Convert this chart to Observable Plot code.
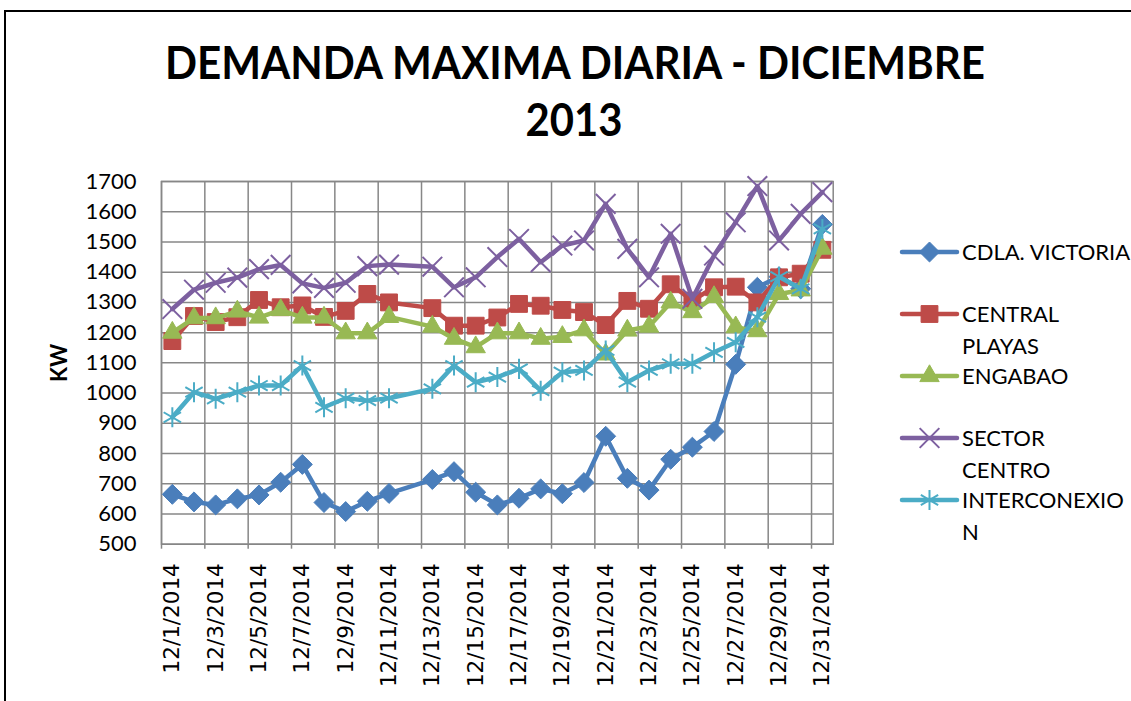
<!DOCTYPE html>
<html>
<head>
<meta charset="utf-8">
<script src="https://cdn.jsdelivr.net/npm/d3@7"></script>
<script src="https://cdn.jsdelivr.net/npm/@observablehq/plot@0.6"></script>
<style>
  html, body { margin: 0; padding: 0; background: #fff; }
  #wrap { position: relative; width: 1131px; height: 701px; overflow: hidden; background: #fff; }
  #border { position: absolute; left: 4px; top: 10px; width: 1200px; height: 800px; border: 2px solid #000; box-sizing: border-box; }
  #title { position: absolute; left: 0; top: 0; }
  #chart { position: absolute; left: 0; top: 160px; }
  #legend { position: absolute; left: 880px; top: 220px; }
  #ylab { position: absolute; left: 0; top: 0; }
</style>
</head>
<body>
<div id="wrap">
  <div id="border"></div>
  <svg id="title" width="1131" height="160"></svg>
  <svg id="ylab" width="120" height="701"></svg>
  <div id="chart"></div>
  <svg id="legend" width="251" height="340"></svg>
</div>
<script>
// ---- data ----
const titleLines = ["DEMANDA MAXIMA DIARIA - DICIEMBRE", "2013"];
const yLabel = "KW";
// day of December 2014 (12/12 has no reading)
const days = [1,2,3,4,5,6,7,8,9,10,11,13,14,15,16,17,18,19,20,21,22,23,24,25,26,27,28,29,30,31];
const tickDays = [1,3,5,7,9,11,13,15,17,19,21,23,25,27,29,31];
const tickLabels = ["12/1/2014","12/3/2014","12/5/2014","12/7/2014","12/9/2014","12/11/2014","12/13/2014","12/15/2014","12/17/2014","12/19/2014","12/21/2014","12/23/2014","12/25/2014","12/27/2014","12/29/2014","12/31/2014"];
const yTicks = [500,600,700,800,900,1000,1100,1200,1300,1400,1500,1600,1700];

const seriesNames = ["CDLA. VICTORIA", "CENTRAL PLAYAS", "ENGABAO", "SECTOR CENTRO", "INTERCONEXION"];
const legendLines = [["CDLA. VICTORIA"], ["CENTRAL", "PLAYAS"], ["ENGABAO"], ["SECTOR", "CENTRO"], ["INTERCONEXIO", "N"]];

const cdlaVictoria = [665,640,630,650,663,705,764,638,608,642,668,714,740,672,630,652,683,667,704,857,718,679,781,821,873,1095,1350,1385,1345,1558];
const centralPlayas = [1172,1255,1235,1251,1308,1284,1290,1252,1272,1328,1300,1281,1223,1223,1250,1295,1289,1275,1268,1225,1305,1279,1360,1306,1350,1352,1300,1383,1395,1474];
const engabao = [1200,1248,1248,1270,1250,1275,1250,1250,1198,1198,1252,1220,1180,1152,1198,1198,1180,1186,1208,1128,1207,1220,1300,1268,1318,1218,1205,1328,1340,1478];
const sectorCentro = [1278,1342,1365,1382,1410,1424,1363,1348,1365,1420,1425,1418,1350,1383,1450,1510,1433,1488,1505,1626,1477,1383,1527,1312,1455,1565,1685,1505,1593,1665];
const interconexion = [920,1003,981,1003,1025,1025,1091,953,983,975,983,1014,1091,1036,1053,1080,1008,1069,1075,1141,1036,1075,1097,1097,1135,1168,1251,1385,1345,1543];

const seriesValues = [cdlaVictoria, centralPlayas, engabao, sectorCentro, interconexion];
const colors = ["#4a7ebb", "#be4b48", "#98b954", "#7d60a0", "#4bacc6"];
const symbols = ["diamond2", "square", "triangle", "times", "asterisk"];
const symbolR = [9, 9.5, 7.2, 9, 9.5];
const filled = [true, true, true, false, false];

// ---- title ----
const tsvg = d3.select("#title");
tsvg.append("text").attr("x", 575).attr("y", 79).attr("text-anchor", "middle")
  .attr("font-family", "Lato").attr("font-weight", "bold").attr("font-size", 46)
  .attr("textLength", 820).attr("lengthAdjust", "spacingAndGlyphs").text(titleLines[0]);
tsvg.append("text").attr("x", 574).attr("y", 136).attr("text-anchor", "middle")
  .attr("font-family", "Lato").attr("font-weight", "bold").attr("font-size", 46)
  .attr("textLength", 97).attr("lengthAdjust", "spacingAndGlyphs").text(titleLines[1]);

// ---- y label ----
d3.select("#ylab").append("text").attr("transform", "translate(67,363) rotate(-90)")
  .attr("text-anchor", "middle").attr("font-family", "Lato").attr("font-weight", "bold")
  .attr("font-size", 22).text(yLabel);

// ---- chart ----
const gridColor = "#878787";
const gridDays = d3.range(0.5, 31, 2);
const marks = [
  Plot.gridY(yTicks, {stroke: gridColor, strokeOpacity: 1, strokeWidth: 1.5}),
  Plot.gridX(gridDays, {stroke: gridColor, strokeOpacity: 1, strokeWidth: 1.5}),
  Plot.frame({stroke: gridColor, strokeWidth: 1.5}),
  Plot.axisY(yTicks, {tickSize: 0, tickPadding: 25, tickFormat: d => String(d), fontSize: 22, fontFamily: "Lato", fill: "#000", label: null}),
  Plot.axisX(gridDays, {tickSize: 5, stroke: gridColor, strokeWidth: 1.5, tickFormat: () => "", label: null}),
  Plot.axisX(tickDays, {tickSize: 0, tickPadding: 19, tickRotate: -90, tickFormat: d => tickLabels[tickDays.indexOf(d)],
    fontSize: 21.5, fontFamily: "DejaVu Sans", fill: "#000", label: null})
];
seriesValues.forEach((vals, s) => {
  marks.push(Plot.line(days, {x: d => d, y: (d, i) => vals[i], stroke: colors[s], strokeWidth: 4.5,
    strokeLinejoin: "round", strokeLinecap: "round"}));
  marks.push(Plot.dot(days, {x: d => d, y: (d, i) => vals[i], symbol: symbols[s], r: symbolR[s],
    fill: filled[s] ? colors[s] : "none", stroke: colors[s], strokeWidth: filled[s] ? 1 : 2}));
});

const chart = Plot.plot({
  width: 850, height: 541,
  marginLeft: 161, marginRight: 17.3, marginTop: 21, marginBottom: 157.3,
  x: {type: "linear", domain: [0.5, 31.5]},
  y: {domain: [500, 1700]},
  style: {background: "transparent", overflow: "visible"},
  marks
});
document.getElementById("chart").appendChild(chart);

// ---- legend ----
const lg = d3.select("#legend");
const lx0 = 22, lx1 = 77, lmid = 49.5, ltext = 82;
const symMap = {diamond2: d3.symbolDiamond2, square: d3.symbolSquare, triangle: d3.symbolTriangle, times: d3.symbolTimes, asterisk: d3.symbolAsterisk};
legendLines.forEach((lines, s) => {
  const y = 32 + s * 62;
  const g = lg.append("g");
  g.append("line").attr("x1", lx0).attr("x2", lx1).attr("y1", y).attr("y2", y)
    .attr("stroke", colors[s]).attr("stroke-width", 4.5).attr("stroke-linecap", "round");
  g.append("path").attr("transform", `translate(${lmid},${y})`)
    .attr("d", d3.symbol(symMap[symbols[s]], Math.PI * symbolR[s] * symbolR[s])())
    .attr("fill", filled[s] ? colors[s] : "none").attr("stroke", colors[s]).attr("stroke-width", filled[s] ? 1 : 2);
  lines.forEach((t, k) => {
    g.append("text").attr("x", ltext).attr("y", y + k * 32).attr("dy", "0.36em")
      .attr("font-family", "Lato").attr("font-size", 22).attr("fill", "#000").text(t);
  });
});
</script>
</body>
</html>
